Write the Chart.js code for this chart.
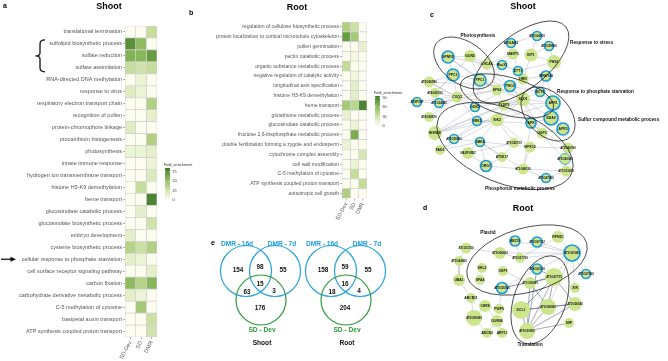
<!DOCTYPE html>
<html><head><meta charset="utf-8">
<script src="https://cdn.jsdelivr.net/npm/chart.js@4.4.1/dist/chart.umd.min.js"></script>
<style>
html,body{margin:0;padding:0;background:#fff;}
#wrap{position:relative;width:668px;height:361px;overflow:hidden;font-family:"Liberation Sans",Arial,sans-serif;background:#fff;}
canvas{position:absolute;}
.t{position:absolute;white-space:nowrap;line-height:1;}
</style></head><body>
<div id="wrap">
<canvas id="ca" width="200" height="361" style="left:0;top:0;width:200px;height:361px"></canvas>
<canvas id="cb" width="245" height="235" style="left:165px;top:0;width:245px;height:235px"></canvas>
<canvas id="ce" width="205" height="133" style="left:195px;top:228px;width:205px;height:133px"></canvas>
<canvas id="cc" width="268" height="200" style="left:400px;top:0;width:268px;height:200px"></canvas>
<canvas id="cd" width="268" height="161" style="left:400px;top:200px;width:268px;height:161px"></canvas>
</div>
<script>
// ---------------- DATA ----------------
const colLabels = ['SD-Dev', 'SD', 'DMR'];

const shootTerms = ['translational termination','sulfolipid biosynthetic process','sulfate reduction','sulfate assimilation','RNA-directed DNA methylation','response to virus','respiratory electron transport chain','recognition of pollen','protein-chromophore linkage','procambium histogenesis','photosynthesis','innate immune response','hydrogen ion transmembrane transport','histone H3-K9 demethylation','heme transport','glucosinolate catabolic process','glucosinolate biosynthetic process','embryo development','cysteine biosynthetic process','cellular response to phosphate starvation','cell surface receptor signaling pathway','carbon fixation','carbohydrate derivative metabolic process','C-5 methylation of cytosine','basipetal auxin transport','ATP synthesis coupled proton transport'];
const shootSDDev = [0,75,60,30,0,18,0,0,18,0,12,0,0,0,0,0,0,15,38,15,0,55,15,0,0,0];
const shootSD    = [0,55,58,25,12,12,0,0,0,0,12,0,0,30,0,15,0,0,28,12,0,38,10,45,0,0];
const shootDMR   = [30,0,70,30,0,0,40,15,0,40,15,12,20,0,80,0,25,0,40,0,15,58,0,0,28,25];
const shootLegendTicks = [75,50,25,0];

const rootTerms = ['regulation of cellulose biosynthetic process','protein localization to cortical microtubule cytoskeleton','pollen germination','pectin catabolic process','organic substance metabolic process','negative regulation of catalytic activity','longitudinal axis specification','histone H3-K9 demethylation','heme transport','glutathione metabolic process','glucosinolate catabolic process','fructose 2,6-bisphosphate metabolic process','double fertilization forming a zygote and endosperm','cytochrome complex assembly','cell wall modification','C-5 methylation of cytosine','ATP synthesis coupled proton transport','anisotropic cell growth'];
const rootSDDev = [45,78,0,0,35,0,0,0,50,15,0,0,12,0,0,0,0,45];
const rootSD    = [30,50,0,8,0,8,18,18,40,0,12,70,0,0,12,35,0,0];
const rootDMR   = [0,0,15,0,0,0,0,0,90,0,0,0,0,25,0,0,35,0];
const rootLegendTicks = [90,60,30,0];

const vennSets = ['DMR - 16d','DMR - 7d','SD - Dev'];
const vennShootCounts = [154,98,55,15,63,3,176];
const vennRootCounts  = [158,59,55,16,18,4,204];

const shootNodeNames = ['SPNR2','GUN5','LHCA6','PPC3','PPC1','AT2G06990','AT4G00150','ATSP3SP','AT1G04640','COQ3','AT4G08870','HISN6D','FAD3','AT5G50850','NADP-ME2','GDK2','SRK2','SIK2','SBK4','SPS2','PLDP2','PHO2','SQD1','HRN','ETT1','RbcX1','MART1','ARGAH2','AT3G04910','EIP1','AT3G59800','PHS2','WRKY40','BCT1','APR1','APK','EDA9','APR3','UGP3','AT1G20715','MPK12','AT3G60780','AT5G60380','AT1G13470','AT5G47800','AT1G48120','AT5K17','ORG1'];
const shootNodeX = [48,70,87,53,80,29,35,17,39,57,29,35,40,54,68,75,77,97,80,97,104,110,123,123,118,102,113,111,137,131,149,154,146,140,153,131,151,163,142,114,130,168,165,166,146,123,102,86];
const shootNodeY = [57,56,64,75,80,82,93,102,103,97,117,133,150,139,153,107,121,120,142,90,105,86,99,79,71,65,54,43,36,55,46,62,76,92,103,123,118,129,133,143,147,148,159,171,178,169,157,166];
const shootNodeSize = [6,6,5.5,6,6,5.5,5,4.5,4.5,5.5,5,7,5,4.5,6,4.5,4.5,6.5,4.5,5.5,5.5,5.5,7,5.5,4.5,4.5,5.5,4.5,4.5,6.5,4.5,7,5,4.5,7,5,7,6,5.5,5,5.5,5.5,5.5,5.5,4.5,5.5,5,5.5];
const shootNodeDMR = [1,0,0,1,1,0,0,1,1,0,0,0,0,1,0,1,1,0,1,0,0,1,0,0,1,1,0,1,1,0,1,0,1,1,1,1,1,1,0,0,0,0,2,0,1,0,0,1];
const shootEdges = ['SPNR2|GUN5','SPNR2|PPC3','SPNR2|LHCA6','SPNR2|PPC1','SPNR2|SPS2','GUN5|LHCA6','GUN5|PPC1','GUN5|SQD1','PPC3|PPC1','PPC3|COQ3','PPC3|AT2G06990','PPC1|SPS2','PPC1|PHO2','PPC1|GDK2','PPC1|SQD1','LHCA6|RbcX1','LHCA6|SQD1','LHCA6|MART1','AT2G06990|COQ3','AT4G00150|COQ3','ATSP3SP|AT1G04640','AT1G04640|COQ3','AT1G04640|SPS2','COQ3|SRK2','COQ3|PLDP2','AT4G08870|COQ3','HISN6D|SIK2','HISN6D|GDK2','HISN6D|SQD1','FAD3|SBK4','AT5G50850|SRK2','AT5G50850|MPK12','NADP-ME2|ORG1','NADP-ME2|AT1G20715','NADP-ME2|SIK2','GDK2|SQD1','GDK2|PHO2','SRK2|SIK2','SRK2|APK','SIK2|AT1G20715','SIK2|SQD1','SIK2|MPK12','SBK4|AT1G48120','SBK4|AT5K17','SPS2|SQD1','SPS2|PLDP2','PLDP2|SQD1','PLDP2|APR1','PHO2|SQD1','PHO2|HRN','PHO2|BCT1','SQD1|APR1','SQD1|EDA9','SQD1|APK','SQD1|BCT1','SQD1|UGP3','HRN|EIP1','HRN|ETT1','HRN|WRKY40','ETT1|MART1','ETT1|PHS2','RbcX1|MART1','RbcX1|ETT1','MART1|ARGAH2','ARGAH2|AT3G04910','EIP1|AT3G04910','EIP1|PHS2','EIP1|AT3G59800','AT3G59800|PHS2','PHS2|WRKY40','WRKY40|BCT1','WRKY40|APR1','BCT1|APR1','APR1|EDA9','APR1|APR3','EDA9|APR3','EDA9|APK','APK|UGP3','UGP3|APR3','APK|AT1G48120','MPK12|AT3G60780','MPK12|AT1G48120','AT1G20715|AT5K17','AT5K17|ORG1','AT1G48120|AT5G47800','AT3G60780|AT5G60380','AT5G60380|AT1G13470','AT1G13470|AT5G47800','ORG1|AT1G48120','AT1G48120|AT1G13470','ORG1|SBK4','SRK2|HISN6D','GDK2|AT2G06990','AT4G00150|PPC3','FAD3|AT5G50850','AT5G50850|SQD1','SIK2|APR1','PLDP2|AT3G60780','APK|AT5G60380','GUN5|AT4G00150','HISN6D|PLDP2','ATSP3SP|SPS2','AT2G06990|PHO2','FAD3|SIK2'];

const rootNodeNames = ['AT1G11150','AT3G06600','AT3G43860','ABCI9','AT3G07732','RPN5C','AT3G07490','AT3G17730','SKL2','OSP1','AT4G23100','AT3G07715','AT5G07560','UBA1','SPA4','AT1G18080','AT3G05000','XIR','ABCB11','CHR8','PWP5','DCL1','AT3G08090','AT3G06540','AT2G05080','GUN96','ABCB3','ARF13','AT3G10950','MIP'];
const rootNodeX = [66,100,59,115,137,158,172,120,82,103,137,154,186,59,80,130,102,175,71,85,99,121,148,175,74,97,87,102,127,169];
const rootNodeY = [48,53,61,41,42,37,53,58,68,71,69,77,74,80,80,83,88,88,98,106,109,110,107,104,118,121,133,133,131,123];
const rootNodeSize = [5.5,6,5,5,5,6,8,5,5,5,5,9,4.5,6,5,6,5.5,5,5,6,5,9,8,7,8,6,5,5,8,5];
const rootNodeDMR = [0,0,0,1,1,0,1,0,0,0,1,0,1,0,0,0,1,0,0,0,0,0,0,0,0,0,0,0,0,0];
const rootEdges = ['AT1G11150|AT3G06600','AT1G11150|AT3G43860','AT3G43860|UBA1','UBA1|ABCB11','ABCB11|AT2G05080','AT2G05080|CHR8','AT2G05080|ABCB3','CHR8|GUN96','CHR8|PWP5','GUN96|ABCB3','GUN96|ARF13','SKL2|SPA4','AT3G06600|AT3G07490','AT3G06600|AT3G17730','ABCI9|AT3G07490','AT3G07732|AT3G07490','RPN5C|AT3G07490','AT3G17730|AT3G07490','AT3G07490|AT5G07560','AT3G07490|AT4G23100','AT3G07490|XIR','AT3G07490|AT3G08090','RPN5C|AT3G17730','ABCI9|AT3G17730','OSP1|AT1G18080','AT3G05000|PWP5','AT1G18080|AT3G05000','AT4G23100|AT3G05000','AT3G07490|AT3G07715'];
const rootDarkEdges = ['AT3G07715|AT4G23100','AT3G07715|AT1G18080','AT3G07715|AT3G05000','AT3G07715|DCL1','AT3G07715|AT3G10950','AT3G07715|AT3G08090','AT3G08090|AT3G10950','AT3G08090|DCL1','AT3G08090|AT3G06540','AT3G08090|AT1G18080','AT3G06540|AT3G10950','AT3G10950|DCL1','AT3G10950|MIP','AT1G18080|AT3G10950','AT3G06540|DCL1','AT4G23100|AT3G10950','AT3G07715|AT3G06540'];

// ---------------- LAYOUT / STYLE ----------------
Chart.defaults.font.family = '"Liberation Sans", Arial, sans-serif';
const FONT = '"Liberation Sans", Arial, sans-serif';
const heatStops = [[0,[252,252,239]],[0.15,[234,243,209]],[0.4,[190,216,146]],[0.7,[133,180,86]],[1,[60,122,41]]];
function heatColor(t){
  t = Math.max(0, Math.min(1, t));
  for (let i=1;i<heatStops.length;i++){
    if (t <= heatStops[i][0]){
      const [t0,c0] = heatStops[i-1], [t1,c1] = heatStops[i];
      const f = (t - t0)/(t1 - t0);
      const c = c0.map((v,k)=>Math.round(v + (c1[k]-v)*f));
      return `rgb(${c[0]},${c[1]},${c[2]})`;
    }
  }
  return 'rgb(60,122,41)';
}

function drawLegend(ctx, lg, vmax, ticks){
  const g = ctx.createLinearGradient(0, lg.y1, 0, lg.y0);
  for (let i=0;i<=10;i++) g.addColorStop(i/10, heatColor(i/10));
  ctx.save();
  ctx.fillStyle = g;
  ctx.fillRect(lg.x, lg.y0, lg.w, lg.y1 - lg.y0);
  ctx.font = `3.8px ${FONT}`;
  ctx.fillStyle = '#333';
  ctx.textBaseline = 'alphabetic';
  ctx.fillText('Fold_enrichment', lg.x - 1, lg.y0 - 2.5);
  ctx.textBaseline = 'middle';
  ticks.forEach(t=>{
    const yy = lg.y1 - t/vmax*(lg.y1 - lg.y0);
    ctx.strokeStyle = '#fff'; ctx.lineWidth = 0.6;
    ctx.beginPath(); ctx.moveTo(lg.x, yy); ctx.lineTo(lg.x+1.2, yy); ctx.moveTo(lg.x+lg.w-1.2, yy); ctx.lineTo(lg.x+lg.w, yy); ctx.stroke();
    ctx.fillStyle = '#333';
    ctx.fillText(String(t), lg.x + lg.w + 2.5, yy);
  });
  ctx.restore();
}

function heatChart(id, terms, series, vmax, geo, legendTicks, extra){
  const datasets = series.map((vals, c)=>({
    label: colLabels[c],
    data: vals.map(()=>[c, c+1]),
    backgroundColor: vals.map(v=>heatColor(v/vmax)),
    borderColor: '#d2d2d2', borderWidth: 0.7, borderSkipped: false,
    barPercentage: 1, categoryPercentage: 1, grouped: false
  }));
  return new Chart(document.getElementById(id), {
    type: 'bar',
    data: { labels: terms, datasets },
    options: {
      indexAxis: 'y', responsive: false, animation: false, devicePixelRatio: 1,
      layout: { padding: { left: 0, top: geo.top, right: geo.right, bottom: 0 } },
      plugins: { legend: { display: false }, tooltip: { enabled: false } },
      scales: {
        x: { type: 'linear', min: 0, max: 3, offset: false,
          afterBuildTicks: s => { s.ticks = [0.5,1.5,2.5].map(v=>({value: v})); },
          afterFit: s => { s.height = geo.xh; },
          ticks: { callback: (v,i)=>colLabels[i], minRotation: 62, maxRotation: 62, autoSkip: false, font: { size: geo.cfs }, color: '#555', padding: 1 },
          grid: { display: true, drawOnChartArea: false, drawTicks: true, tickLength: 2, color: '#777', lineWidth: 0.6 },
          border: { display: false } },
        y: { type: 'category', offset: true,
          afterFit: s => { s.width = geo.left; },
          ticks: { autoSkip: false, font: { size: geo.fs }, color: '#555', padding: 1 },
          grid: { display: true, offset: false, drawOnChartArea: false, drawTicks: true, tickLength: 2, color: '#777', lineWidth: 0.6 },
          border: { display: false } }
      }
    },
    plugins: [{
      id: 'heatDecor',
      afterDraw(chart){
        const ctx = chart.ctx;
        drawLegend(ctx, geo.legend, vmax, legendTicks);
        if (extra) extra(chart);
      }
    }]
  });
}

// Panel a
heatChart('ca', shootTerms, [shootSDDev, shootSD, shootDMR], 85,
  { left: 125, top: 26, right: 43, xh: 24, fs: 5.5, cfs: 5.6, legend: { x: 165, y0: 168, y1: 200, w: 5 } },
  shootLegendTicks,
  chart => {
    const ctx = chart.ctx, y = chart.scales.y;
    const top = y.getPixelForValue(1) - 4, bot = y.getPixelForValue(3) + 4, mid = (top+bot)/2;
    ctx.save();
    ctx.strokeStyle = '#111'; ctx.lineWidth = 1.3;
    ctx.beginPath();
    ctx.moveTo(45, top); ctx.quadraticCurveTo(40, top, 40, top+4);
    ctx.lineTo(40, mid-3); ctx.quadraticCurveTo(40, mid, 35.5, mid);
    ctx.quadraticCurveTo(40, mid, 40, mid+3);
    ctx.lineTo(40, bot-4); ctx.quadraticCurveTo(40, bot, 45, bot);
    ctx.stroke();
    const ay = y.getPixelForValue(19);
    ctx.beginPath(); ctx.moveTo(1, ay); ctx.lineTo(12, ay); ctx.stroke();
    ctx.fillStyle = '#111';
    ctx.beginPath(); ctx.moveTo(16, ay); ctx.lineTo(10.5, ay-2.6); ctx.lineTo(10.5, ay+2.6); ctx.closePath(); ctx.fill();
    ctx.restore();
  });

// Panel b
heatChart('cb', rootTerms, [rootSDDev, rootSD, rootDMR], 95,
  { left: 177, top: 22, right: 43, xh: 36.5, fs: 5.1, cfs: 5.4, legend: { x: 210, y0: 96, y1: 126, w: 5 } },
  rootLegendTicks, null);

// Panel e (Venn)
const vennCircles = [
  { x: 51, y: 43, r: 25.5, set: 0 }, { x: 80, y: 43, r: 25.5, set: 1 }, { x: 66, y: 72, r: 25, set: 2 },
  { x: 136, y: 43, r: 25.5, set: 0 }, { x: 165, y: 43, r: 25.5, set: 1 }, { x: 151, y: 72, r: 25, set: 2 }
];
const vennNumPos = [[43,42],[65,39],[88,42],[65,56],[52,64],[79,63],[65,80]];
const vennRootNumPos = [[128,42],[150,39],[173,42],[150,56],[137,64],[164,63],[150,80]];
const setColors = ['#27a3de','#27a3de','#2e9a3a'];
new Chart(document.getElementById('ce'), {
  type: 'scatter',
  data: { datasets: [{
    data: vennCircles.map(c=>({x: c.x, y: c.y})),
    pointRadius: vennCircles.map(c=>c.r),
    pointBackgroundColor: 'rgba(0,0,0,0)',
    pointBorderColor: vennCircles.map(c=>setColors[c.set]),
    pointBorderWidth: 1.2, showLine: false, clip: false
  }]},
  options: {
    responsive: false, animation: false, devicePixelRatio: 1,
    layout: { padding: 0, autoPadding: false },
    plugins: { legend: { display: false }, tooltip: { enabled: false } },
    scales: { x: { type: 'linear', min: 0, max: 205, display: false }, y: { type: 'linear', min: 0, max: 133, reverse: true, display: false } }
  },
  plugins: [{ id: 'vennText', afterDatasetsDraw(chart){
    const ctx = chart.ctx, sx = chart.scales.x, sy = chart.scales.y;
    const P = (x,y)=>[sx.getPixelForValue(x), sy.getPixelForValue(y)];
    ctx.save();
    ctx.textAlign = 'center'; ctx.textBaseline = 'middle';
    ctx.font = `bold 6.4px ${FONT}`; ctx.fillStyle = '#111';
    vennShootCounts.forEach((n,i)=>{ const [x,y] = P(...vennNumPos[i]); ctx.fillText(String(n), x, y); });
    vennRootCounts.forEach((n,i)=>{ const [x,y] = P(...vennRootNumPos[i]); ctx.fillText(String(n), x, y); });
    ctx.font = `bold 6.6px ${FONT}`;
    const labs = [[0,42,16],[1,87,16],[2,67,102],[0,127,16],[1,172,16],[2,152,102]];
    labs.forEach(([s,x,y])=>{ ctx.fillStyle = s===2 ? '#2e9a3a' : '#1f9dd9'; const p = P(x,y); ctx.fillText(vennSets[s], p[0], p[1]); });
    ctx.fillStyle = '#111';
    let p = P(67,115); ctx.fillText('Shoot', p[0], p[1]);
    p = P(152,115); ctx.fillText('Root', p[0], p[1]);
    ctx.restore();
  }}]
});

// Networks
function netChart(id, w, h, names, xs, ys, sizes, dmr, edges, darkEdges, groups){
  const idx = {}; names.forEach((n,i)=>idx[n]=i);
  const edgePts = list => { const pts = []; list.forEach(e=>{ const [a,b] = e.split('|'); pts.push({x: xs[idx[a]], y: ys[idx[a]]}, {x: xs[idx[b]], y: ys[idx[b]]}, {x: NaN, y: NaN}); }); return pts; };
  const datasets = [
    { data: names.map((n,i)=>({x: xs[i], y: ys[i]})), pointRadius: sizes,
      pointBackgroundColor: '#cde58d',
      pointBorderColor: dmr.map(b=>b ? '#1b9be0' : 'rgba(0,0,0,0)'),
      pointBorderWidth: dmr.map(b=>b===1 ? 1.7 : b===2 ? 0.8 : 0), showLine: false, clip: false },
    { data: edgePts(edges), showLine: true, pointRadius: 0, borderColor: 'rgba(140,145,170,0.6)', borderWidth: 0.55, spanGaps: false, clip: false },
    { data: edgePts(darkEdges || []), showLine: true, pointRadius: 0, borderColor: 'rgba(70,82,120,0.85)', borderWidth: 0.6, spanGaps: false, clip: false }
  ];
  return new Chart(document.getElementById(id), {
    type: 'scatter',
    data: { datasets },
    options: {
      responsive: false, animation: false, devicePixelRatio: 1,
      layout: { padding: 0, autoPadding: false },
      plugins: { legend: { display: false }, tooltip: { enabled: false } },
      scales: { x: { type: 'linear', min: 0, max: w, display: false }, y: { type: 'linear', min: 0, max: h, reverse: true, display: false } }
    },
    plugins: [{ id: 'netDecor', afterDatasetsDraw(chart){
      const ctx = chart.ctx, sx = chart.scales.x, sy = chart.scales.y;
      ctx.save();
      ctx.strokeStyle = '#222'; ctx.lineWidth = 0.8;
      groups.forEach(g=>{
        ctx.beginPath();
        ctx.ellipse(sx.getPixelForValue(g.cx), sy.getPixelForValue(g.cy), g.rx, g.ry, g.rot*Math.PI/180, 0, Math.PI*2);
        ctx.stroke();
      });
      ctx.fillStyle = '#111'; ctx.textBaseline = 'middle';
      ctx.font = `bold 4.7px ${FONT}`;
      groups.forEach(g=>{ ctx.textAlign = g.align; ctx.fillText(g.label, sx.getPixelForValue(g.lx), sy.getPixelForValue(g.ly)); });
      ctx.textAlign = 'center';
      names.forEach((n,i)=>{
        const fs = n.length > 6 ? 2.9 : 3.4;
        ctx.font = `bold ${fs}px ${FONT}`;
        ctx.fillText(n, sx.getPixelForValue(xs[i]), sy.getPixelForValue(ys[i]));
      });
      ctx.restore();
    }}]
  });
}

const shootGroups = [
  { label: 'Photosynthesis', cx: 64, cy: 63, rx: 34, ry: 21, rot: 35, lx: 78, ly: 36, align: 'center' },
  { label: 'Response to stress', cx: 121, cy: 62, rx: 57, ry: 27, rot: -38, lx: 170, ly: 43, align: 'left' },
  { label: 'Response to phosphate starvation', cx: 107, cy: 96, rx: 48, ry: 19, rot: 15, lx: 157, ly: 92, align: 'left' },
  { label: 'Sulfur compound metabolic process', cx: 148, cy: 114, rx: 32, ry: 21, rot: 45, lx: 178, ly: 120, align: 'left' },
  { label: 'Phosphorus metabolic process', cx: 105, cy: 146, rx: 72, ry: 37, rot: 22, lx: 120, ly: 189, align: 'center' }
];
const rootGroups = [
  { label: 'Plastid', cx: 127, cy: 60, rx: 62, ry: 32, rot: -16, lx: 88, ly: 33, align: 'center' },
  { label: 'Translation', cx: 140, cy: 100, rx: 26, ry: 46, rot: 20, lx: 130, ly: 145, align: 'center' }
];
netChart('cc', 268, 200, shootNodeNames, shootNodeX, shootNodeY, shootNodeSize, shootNodeDMR, shootEdges, null, shootGroups);
netChart('cd', 268, 161, rootNodeNames, rootNodeX, rootNodeY, rootNodeSize, rootNodeDMR, rootEdges, rootDarkEdges, rootGroups);

// Titles and panel letters
const wrap = document.getElementById('wrap');
function addText(txt, x, y, size, bold, center){
  const d = document.createElement('div');
  d.className = 't'; d.textContent = txt;
  d.style.left = x + 'px'; d.style.top = y + 'px';
  d.style.fontSize = size + 'px'; d.style.fontWeight = bold ? 'bold' : 'normal';
  d.style.transform = center ? 'translate(-50%,-50%)' : 'translate(0,-50%)';
  wrap.appendChild(d);
}
addText('a', 3, 5, 7, true, false);
addText('Shoot', 109, 6, 9, true, true);
addText('b', 189, 12, 7, true, false);
addText('Root', 297, 7, 9, true, true);
addText('c', 430, 14, 7, true, false);
addText('Shoot', 523, 6, 9, true, true);
addText('d', 423, 207, 7, true, false);
addText('Root', 523, 208, 9, true, true);
addText('e', 211, 242, 7, true, false);
</script>
</body></html>
